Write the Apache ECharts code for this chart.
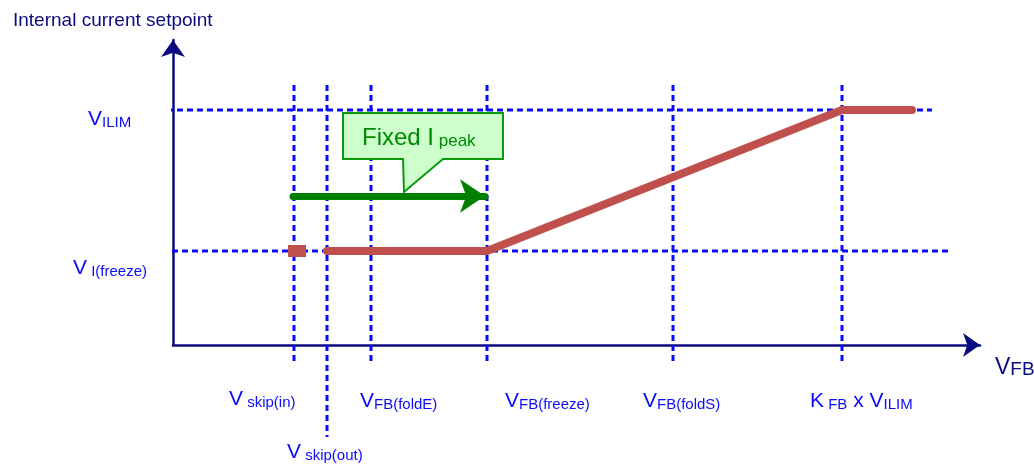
<!DOCTYPE html>
<html>
<head>
<meta charset="utf-8">
<script src="https://cdn.jsdelivr.net/npm/echarts@6/dist/echarts.min.js"></script>
<style>
  html, body { margin: 0; padding: 0; background: #fff; }
  #chart { width: 1034px; height: 464px; }
</style>
</head>
<body>
<div id="chart"></div>
<script>
// V_FB thresholds (x units) and how far each guide drops below the axis
var markX = [121, 154, 198, 314, 500, 669];
var markTop = [260, 260, 260, 260, 260, 260];
var markBottom = [-18, -92, -18, -18, -18, -18];

// current levels (y units): V_ILIM and V_I(freeze)
var levelY = [235, 94];
var levelFrom = [-26, -11];
var levelTo = [759, 775];

// internal current setpoint curve
var setpointX = [154, 314, 669, 739];
var setpointY = [94, 94, 235, 235];
var skipPoint = [124, 94];

// "Fixed I peak" range arrow
var fixedFrom = [120, 149];
var fixedTo = [312, 149];

// callout box: left, top, right, bottom, pointer base left/right, pointer tip
var calloutBox = [170, 232, 330, 186];
var calloutPointer = [230, 270, 231, 153];

// text labels (left x, baseline y)
var labelText = [
  '{v|V}{s|ILIM}',
  '{v|V}{s| I(freeze)}',
  '{v|V}{s| skip(in)}',
  '{v|V}{s| skip(out)}',
  '{v|V}{s|FB(foldE)}',
  '{v|V}{s|FB(freeze)}',
  '{v|V}{s|FB(foldS)}',
  '{v|K}{s| FB}{v| x V}{s|ILIM}',
  '{V|V}{S|FB}',
  '{g|Fixed I}{gs| peak}'
];
var labelX = [-85, -100, 56, 114, 187, 332, 470, 637, 822, 189];
var labelY = [222, 73, -58, -111, -60, -60, -60, -60, -27, 202];

var dashBlue = '#0a0aff';
var navy = '#0b0b80';
var red = '#c0504d';
var green = '#007f00';
var font = 'Liberation Sans, Arial, sans-serif';

var chart = echarts.init(document.getElementById('chart'));

var series = [];

// vertical guides
markX.forEach(function (x, i) {
  series.push({
    type: 'line',
    data: [[x, markTop[i]], [x, markBottom[i]]],
    showSymbol: false,
    clip: false,
    z: 1,
    lineStyle: { color: dashBlue, width: 3, type: [6, 4] }
  });
});

// horizontal guides
levelY.forEach(function (y, i) {
  series.push({
    type: 'line',
    data: [[levelFrom[i], y], [levelTo[i], y]],
    showSymbol: false,
    clip: false,
    z: 1,
    lineStyle: { color: dashBlue, width: 3, type: [6, 4] }
  });
});

// small skip marker
series.push({
  type: 'scatter',
  data: [skipPoint],
  symbol: 'rect',
  symbolSize: [18, 12],
  itemStyle: { color: red, opacity: 1 },
  z: 3
});

// setpoint curve
series.push({
  type: 'line',
  data: setpointX.map(function (x, i) { return [x, setpointY[i]]; }),
  showSymbol: false,
  clip: false,
  z: 3,
  lineStyle: { color: red, width: 8, cap: 'round', join: 'round' }
});

// fixed peak arrow
series.push({
  type: 'lines',
  coordinateSystem: 'cartesian2d',
  data: [{ coords: [fixedFrom, fixedTo] }],
  symbol: ['none', 'arrow'],
  symbolSize: [0, 25],
  z: 4,
  lineStyle: { color: green, width: 7, opacity: 1, cap: 'round', curveness: 0 }
});

// callout box
series.push({
  type: 'custom',
  data: [[0, 0]],
  clip: false,
  z: 5,
  renderItem: function (params, api) {
    var b = calloutBox, p = calloutPointer;
    var pts = [
      [b[0], b[1]], [b[2], b[1]], [b[2], b[3]], [p[1], b[3]],
      [p[2], p[3]], [p[0], b[3]], [b[0], b[3]]
    ].map(function (d) { return api.coord(d); });
    return {
      type: 'polygon',
      shape: { points: pts },
      style: { fill: '#ccffcc', stroke: '#0a9a0a', lineWidth: 2 }
    };
  }
});

// text labels
series.push({
  type: 'custom',
  data: labelX.map(function (x, i) { return [x, labelY[i], i]; }),
  clip: false,
  z: 6,
  renderItem: function (params, api) {
    var pt = api.coord([api.value(0), api.value(1)]);
    var i = api.value(2);
    return {
      type: 'text',
      x: pt[0],
      y: pt[1] + 7,
      style: {
        text: labelText[i],
        align: 'left',
        verticalAlign: 'bottom',
        fontFamily: font,
        rich: {
          v: { fontSize: 21, lineHeight: 26, fill: dashBlue, fontFamily: font, verticalAlign: 'bottom' },
          s: { fontSize: 15, lineHeight: 14, fill: dashBlue, fontFamily: font, verticalAlign: 'bottom' },
          V: { fontSize: 23, lineHeight: 28, fill: navy, fontFamily: font, verticalAlign: 'bottom' },
          S: { fontSize: 19, lineHeight: 17, fill: navy, fontFamily: font, verticalAlign: 'bottom' },
          g: { fontSize: 24, lineHeight: 30, fill: '#008a00', fontFamily: font, verticalAlign: 'bottom' },
          gs: { fontSize: 17, lineHeight: 16, fill: '#008a00', fontFamily: font, verticalAlign: 'bottom' }
        }
      }
    };
  }
});

var option = {
  animation: false,
  title: {
    text: 'Internal current setpoint',
    left: 8,
    top: 6,
    textStyle: { fontSize: 19, fontWeight: 'normal', color: navy, fontFamily: font }
  },
  grid: { left: 173, top: 40, width: 807, height: 305 },
  xAxis: {
    type: 'value', min: 0, max: 807,
    splitLine: { show: false }, axisTick: { show: false }, axisLabel: { show: false },
    axisLine: { lineStyle: { color: navy, width: 2.5 }, symbol: ['none', 'arrow'], symbolSize: [18, 17] }
  },
  yAxis: {
    type: 'value', min: 0, max: 305,
    splitLine: { show: false }, axisTick: { show: false }, axisLabel: { show: false },
    axisLine: { lineStyle: { color: navy, width: 2.5 }, symbol: ['none', 'arrow'], symbolSize: [18, 17] }
  },
  series: series
};

chart.setOption(option);
</script>
</body>
</html>
